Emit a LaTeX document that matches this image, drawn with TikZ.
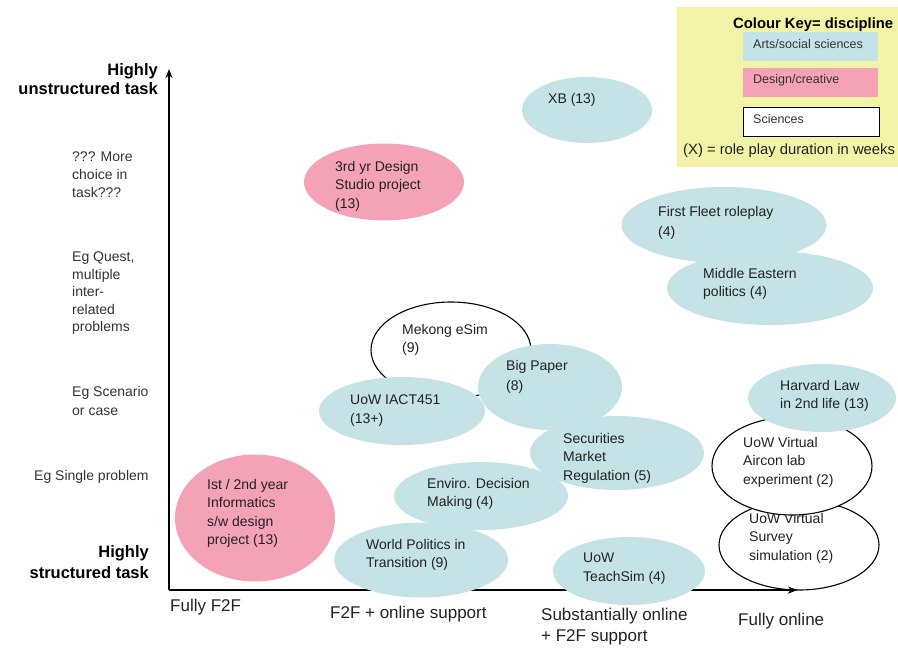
\documentclass[tikz,border=0pt]{standalone}
\usepackage{fontspec}
\setmainfont{Liberation Sans}
\usetikzlibrary{shapes.geometric,arrows.meta}
\definecolor{artsblue}{RGB}{197,226,230}
\definecolor{designpink}{RGB}{244,163,183}
\definecolor{keyyellow}{RGB}{242,243,166}
\definecolor{txt}{RGB}{34,34,34}
\definecolor{sidetxt}{RGB}{51,51,51}
\begin{document}
\begin{tikzpicture}[x=1pt,y=-1pt,
  blob/.style={ellipse, inner sep=0pt},
  arts/.style={blob, fill=artsblue},
  design/.style={blob, fill=designpink},
  sci/.style={blob, fill=white, draw=black, line width=1.1pt},
  lbl/.style={anchor=north west, inner sep=0pt, align=left, text=txt, font=\fontsize{14}{18.5}\selectfont},
  sidelbl/.style={anchor=north west, inner sep=0pt, align=left, text=sidetxt, font=\fontsize{14}{18}\selectfont},
  boldlbl/.style={anchor=north east, inner sep=0pt, align=right, text=black, font=\bfseries\fontsize{16.5}{20}\selectfont},
  xlbl/.style={anchor=north west, inner sep=0pt, align=left, text=txt, font=\fontsize{17}{21}\selectfont},
  keytxt/.style={anchor=west, inner sep=0pt, text=sidetxt, font=\fontsize{12.5}{14}\selectfont},
  swatch/.style={rectangle, anchor=north west, inner sep=0pt, minimum width=135pt, minimum height=29pt},
  ax/.style={line width=1.4pt, -{Stealth[length=9pt,width=7pt]}}
]
\useasboundingbox (0,0) rectangle (898,648);
\clip (0,0) rectangle (898,648);

% axes
\coordinate (O) at (169,590);
\coordinate (ytop) at (169,69);
\coordinate (xend) at (797,590);
\coordinate (xpre) at (765,590);
\draw[ax] (O) -- (ytop);
\draw[ax] (O) -- (xend);

% colour key
\node[rectangle, fill=keyyellow, anchor=north west, inner sep=0pt, minimum width=240pt, minimum height=160pt] (key) at (677,7) {};
\node[anchor=base west, inner sep=0pt, font=\bfseries\fontsize{14.8}{18}\selectfont] (keytitle) at (733,28) {Colour Key= discipline};
\node[swatch, fill=artsblue] (kArts) at (743,32) {};
\node[keytxt] (kArtsT) at (753,44) {Arts/social sciences};
\node[swatch, fill=designpink] (kDes) at (743,68) {};
\node[keytxt] (kDesT) at (753,80) {Design/creative};
\node[swatch, fill=white, draw=black, line width=1.1pt, minimum width=136pt] (kSci) at (743,107) {};
\node[keytxt] (kSciT) at (753,119) {Sciences};
\node[anchor=west, inner sep=0pt, text=txt, font=\fontsize{14.8}{17}\selectfont] (kDur) at (683,151) {(X) = role play duration in weeks};

% ellipses
\node[sci, minimum width=160pt, minimum height=96pt] (mekong) at (451,350) {};
\node[lbl] (mekongT) at (402,324) {Mekong eSim\\(9)};
\node[arts, minimum width=166pt, minimum height=68pt] (iact) at (402,411) {};
\node[lbl] (iactT) at (350,395) {UoW IACT451\\(13+)};
\node[arts, minimum width=144pt, minimum height=86pt] (bigpaper) at (550,387) {};
\node[lbl, font=\fontsize{14}{20}\selectfont] (bigpaperT) at (506,360) {Big Paper\\(8)};
\node[arts, minimum width=174pt, minimum height=74pt] (secur) at (617,453) {};
\node[lbl] (securT) at (563,433) {Securities\\Market\\Regulation (5)};
\node[arts, minimum width=174pt, minimum height=68pt] (enviro) at (481,496) {};
\node[lbl] (enviroT) at (427,478) {Enviro. Decision\\Making (4)};
\node[arts, minimum width=174pt, minimum height=75pt] (world) at (421,560) {};
\node[lbl] (worldT) at (366,539) {World Politics in\\Transition (9)};
\node[design, minimum width=160pt, minimum height=127pt] (informatics) at (255,518) {};
\node[lbl] (informaticsT) at (207,479) {Ist / 2nd year\\Informatics\\s/w design\\project (13)};
\node[design, minimum width=160pt, minimum height=77pt] (studio) at (384,182) {};
\node[lbl] (studioT) at (335,161) {3rd yr Design\\Studio project\\(13)};
\node[arts, minimum width=130pt, minimum height=66pt] (xb) at (587,110) {};
\node[lbl] (xbT) at (548,93) {XB (13)};
\node[arts, minimum width=205pt, minimum height=76pt] (fleet) at (724,225) {};
\node[lbl, font=\fontsize{14}{20}\selectfont] (fleetT) at (658,206) {First Fleet roleplay\\(4)};
\node[arts, minimum width=206pt, minimum height=74pt] (mideast) at (770,288) {};
\node[lbl] (mideastT) at (703,268) {Middle Eastern\\politics (4)};
\node[arts, minimum width=152pt, minimum height=68pt] (teach) at (629,571) {};
\node[lbl] (teachT) at (583,553) {UoW\\TeachSim (4)};
\node[sci, minimum width=160pt, minimum height=90pt] (survey) at (799,545) {};
\node[lbl] (surveyT) at (749,513) {UoW Virtual\\Survey\\simulation (2)};
\node[sci, minimum width=160pt, minimum height=98pt] (aircon) at (792,466) {};
\node[lbl] (airconT) at (743,437) {UoW Virtual\\Aircon lab\\experiment (2)};
\node[arts, minimum width=148pt, minimum height=68pt] (harvard) at (822,398) {};
\node[lbl] (harvardT) at (780,380) {Harvard Law\\in 2nd life (13)};

% arrow tip over the survey ellipse
\draw[ax] (xpre) -- (xend);

% vertical axis labels
\node[boldlbl, font=\bfseries\fontsize{16.5}{19.5}\selectfont] (unstruct) at (158,63) {Highly\\unstructured task};
\node[sidelbl] (choice) at (72,152) {??? More\\choice in\\task???};
\node[sidelbl, font=\fontsize{14}{17.5}\selectfont] (quest) at (72,252) {Eg Quest,\\multiple\\inter-\\related\\problems};
\node[sidelbl, font=\fontsize{14}{19}\selectfont] (scenario) at (72,386) {Eg Scenario\\or case};
\node[sidelbl] (single) at (34,470) {Eg Single problem};
\node[boldlbl, font=\bfseries\fontsize{16.5}{21}\selectfont] (struct) at (149,545) {Highly\\structured task};

% horizontal axis labels
\node[xlbl] (f2f) at (170,599) {Fully F2F};
\node[xlbl] (f2fonline) at (330,606) {F2F + online support};
\node[xlbl] (subst) at (541,608) {Substantially online\\+ F2F support};
\node[xlbl] (online) at (738,613) {Fully online};
\end{tikzpicture}
\end{document}
